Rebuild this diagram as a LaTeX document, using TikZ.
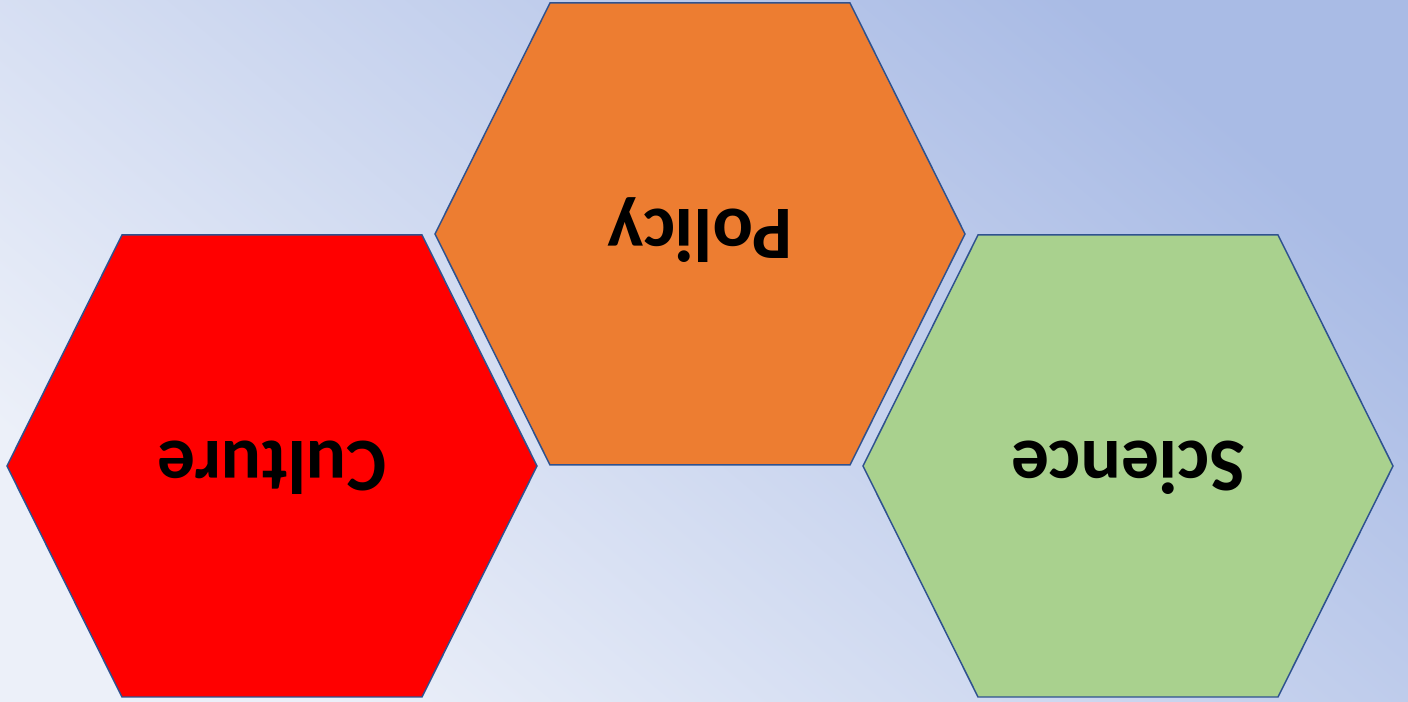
\documentclass[tikz,border=0pt]{standalone}
\usepackage{fontspec}
\setmainfont{Carlito}
\usepackage{tikz}
\usetikzlibrary{calc}

\definecolor{bglight}{HTML}{ECF0F9}
\definecolor{bgdark}{HTML}{A9BBE5}
\definecolor{hexline}{HTML}{2F528F}
\definecolor{culturered}{HTML}{FF0000}
\definecolor{policyorange}{HTML}{ED7D31}
\definecolor{sciencegreen}{HTML}{A9D18E}

\begin{document}
\begin{tikzpicture}[
        x=0.02cm, y=0.02cm,
        hexbox/.style={draw=hexline, line width=0.85pt, line join=miter},
        hexlabel/.style={font=\bfseries\fontsize{43}{50}\selectfont, rotate=180, text height=27.7pt, text depth=0pt, inner sep=0pt}
    ]
        % Background
        \shade[left color=bglight, right color=bgdark, shading angle=140] (0,0) rectangle (1408,702);
        \useasboundingbox (0,0) rectangle (1408,702);

        % Centres
        \coordinate (cultureC) at (272,236);
        \coordinate (policyC) at (700,468);
        \coordinate (scienceC) at (1128,236);

        % Hexagons
        \foreach \c/\col in {cultureC/culturered, policyC/policyorange, scienceC/sciencegreen}
            \draw[hexbox, fill=\col] ($(\c)+(-265,0)$) -- ($(\c)+(-150,231)$) -- ($(\c)+(150,231)$)
                -- ($(\c)+(265,0)$) -- ($(\c)+(150,-231)$) -- ($(\c)+(-150,-231)$) -- cycle;

        % Labels
        \node[hexlabel] (culture) at (cultureC) {Culture};
        \node[hexlabel] (policy) at (policyC) {Policy};
        \node[hexlabel] (science) at (scienceC) {Science};
    \end{tikzpicture}
\end{document}
